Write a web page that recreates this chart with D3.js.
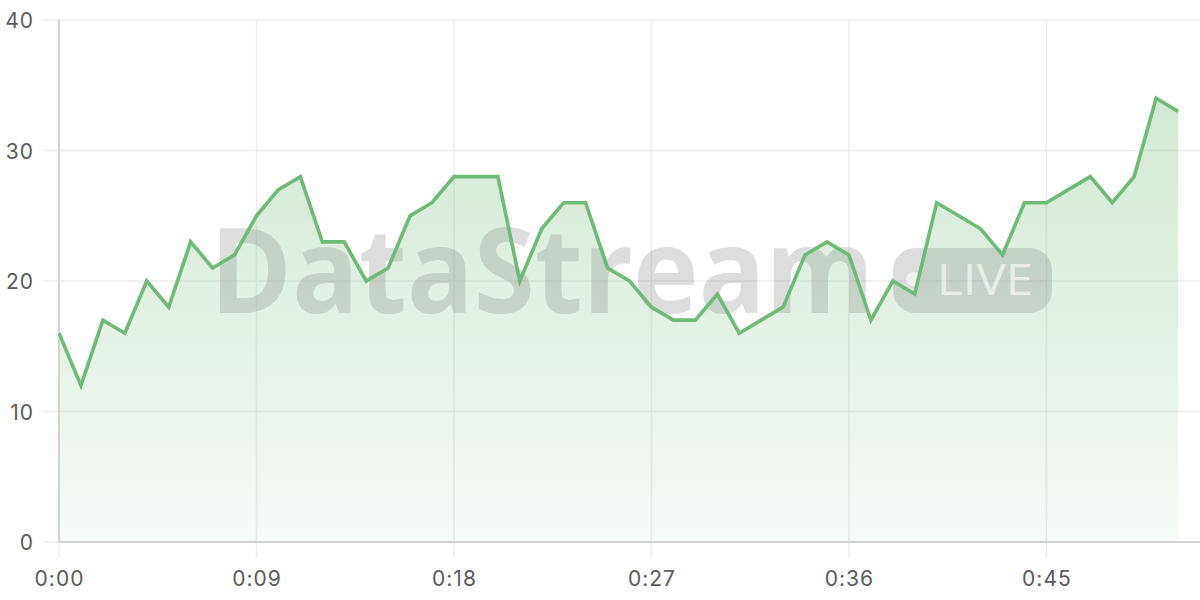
<!DOCTYPE html>
<html lang="en">
<head>
<meta charset="utf-8">
<script src="https://cdn.jsdelivr.net/npm/d3@7"></script>
<style>
  body { margin: 0; padding: 0; background: #ffffff; }
  svg { display: block; }
  .tick-label { font-family: Inter, "DejaVu Sans", sans-serif; font-size: 21px; fill: #5b5b5b; letter-spacing: 1px; }
</style>
</head>
<body>
<svg id="chart" width="1200" height="600"></svg>
<script>
// seconds since start, one reading per second
var seconds = d3.range(0, 52);
var values = [16, 12, 17, 16, 20, 18, 23, 21, 22, 25, 27, 28, 23, 23, 20, 21, 25, 26, 28, 28,
              28, 20, 24, 26, 26, 21, 20, 18, 17, 17, 19, 16, 17, 18, 22, 23, 22, 17, 20, 19,
              26, 25, 24, 22, 26, 26, 27, 28, 26, 28, 34, 33];
var xTicks = [0, 9, 18, 27, 36, 45];
var yTicks = [0, 10, 20, 30, 40];

var data = seconds.map(function(s, i){ return {t: s, v: values[i]}; });

var margin = {top: 20, right: 0, bottom: 58, left: 59};
var W = 1200, H = 600;
var svg = d3.select("#chart");

var x = d3.scaleLinear().domain([0, 52]).range([margin.left, W - margin.right]);
var y = d3.scaleLinear().domain([0, 40]).range([H - margin.bottom, margin.top]);

function fmt(s){ return Math.floor(s / 60) + ":" + d3.format("02d")(s % 60); }

// area gradient
var defs = svg.append("defs");
var grad = defs.append("linearGradient")
  .attr("id", "areaGrad").attr("x1", 0).attr("y1", 0).attr("x2", 0).attr("y2", 1);
grad.append("stop").attr("offset", "0%").attr("stop-color", "#6fba78").attr("stop-opacity", 0.32);
grad.append("stop").attr("offset", "100%").attr("stop-color", "#6fba78").attr("stop-opacity", 0.06);

// grid
var grid = svg.append("g");
grid.selectAll(".hg").data(yTicks).enter().append("line")
  .attr("x1", margin.left - 16).attr("x2", W)
  .attr("y1", function(d){ return y(d); }).attr("y2", function(d){ return y(d); })
  .attr("stroke", "#ececec").attr("stroke-width", 1.5);
grid.selectAll(".vg").data(xTicks).enter().append("line")
  .attr("x1", function(d){ return x(d); }).attr("x2", function(d){ return x(d); })
  .attr("y1", margin.top).attr("y2", H - margin.bottom + 16)
  .attr("stroke", "#ececec").attr("stroke-width", 1.5);

// area
var area = d3.area()
  .x(function(d){ return x(d.t); })
  .y0(y(0))
  .y1(function(d){ return y(d.v); });
svg.append("path").datum(data).attr("d", area).attr("fill", "url(#areaGrad)");

// watermark
var wm = svg.append("g");
wm.append("text")
  .attr("x", 210).attr("y", 313)
  .attr("textLength", 664).attr("lengthAdjust", "spacingAndGlyphs")
  .attr("font-family", "'Open Sans', 'Liberation Sans', sans-serif")
  .attr("font-weight", 700).attr("font-size", 118)
  .attr("fill", "#7a7a7a").attr("fill-opacity", 0.26)
  .text("DataStream");
wm.append("rect")
  .attr("x", 893).attr("y", 248).attr("width", 159).attr("height", 65).attr("rx", 22)
  .attr("fill", "#7a7a7a").attr("fill-opacity", 0.26);
wm.append("circle")
  .attr("cx", 913).attr("cy", 279).attr("r", 7)
  .attr("fill", "#ffffff").attr("fill-opacity", 0.6);
wm.append("text")
  .attr("x", 937).attr("y", 295)
  .attr("textLength", 96).attr("lengthAdjust", "spacingAndGlyphs")
  .attr("font-family", "'Open Sans', 'Liberation Sans', sans-serif")
  .attr("font-size", 44)
  .attr("fill", "#ffffff").attr("fill-opacity", 0.6)
  .text("LIVE");

// axes
var yAxis = d3.axisLeft(y).tickValues(yTicks).tickSize(16).tickPadding(9);
var gy = svg.append("g").attr("transform", "translate(" + margin.left + ",0)").call(yAxis);
gy.select(".domain").remove();
gy.selectAll("line").attr("stroke", "none");
gy.selectAll("text").attr("class", "tick-label").attr("dy", "0.36em");

var xAxis = d3.axisBottom(x).tickValues(xTicks).tickFormat(fmt).tickSize(16).tickPadding(13);
var gx = svg.append("g").attr("transform", "translate(0," + (H - margin.bottom) + ")").call(xAxis);
gx.select(".domain").remove();
gx.selectAll("line").attr("stroke", "none");
gx.selectAll("text").attr("class", "tick-label").attr("dy", "0.71em");

// axis lines
svg.append("line")
  .attr("x1", x(0)).attr("x2", x(0)).attr("y1", margin.top).attr("y2", y(0))
  .attr("stroke", "#d3d3d3").attr("stroke-width", 2);
svg.append("line")
  .attr("x1", x(0)).attr("x2", W).attr("y1", y(0)).attr("y2", y(0))
  .attr("stroke", "#d3d3d3").attr("stroke-width", 2);

// line
var line = d3.line()
  .x(function(d){ return x(d.t); })
  .y(function(d){ return y(d.v); });
svg.append("path").datum(data).attr("d", line)
  .attr("fill", "none").attr("stroke", "#6fba78").attr("stroke-width", 3.6)
  .attr("stroke-linejoin", "miter");
</script>
</body>
</html>
